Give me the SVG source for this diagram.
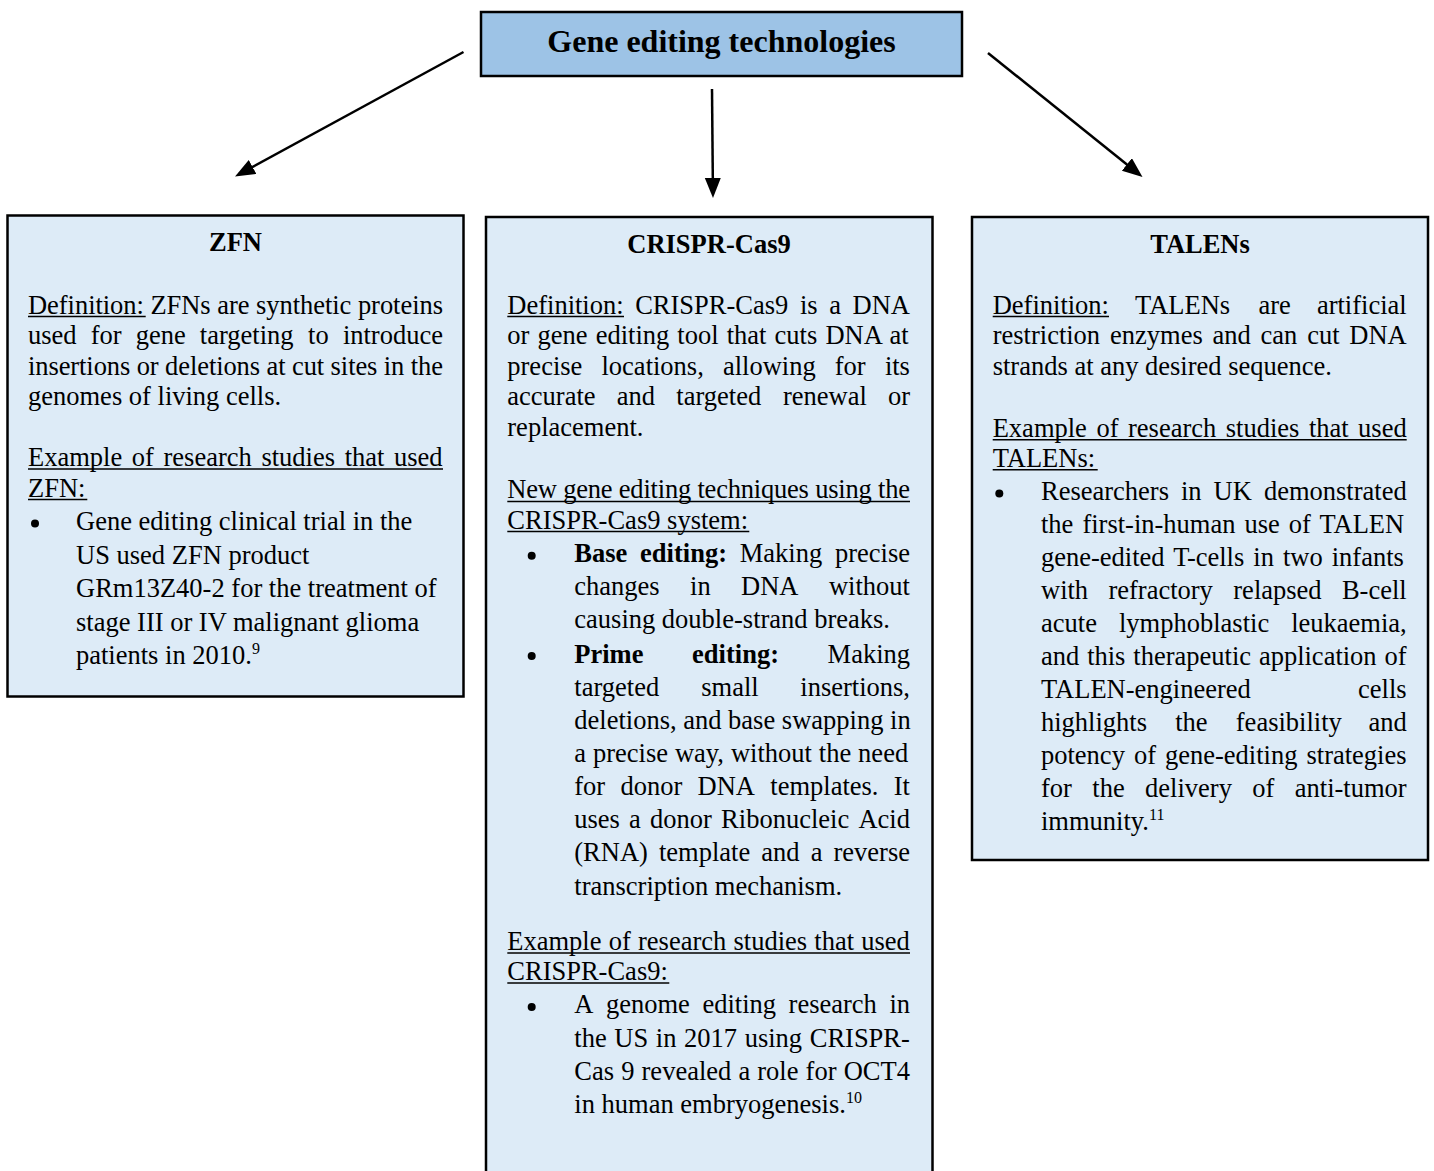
<svg xmlns="http://www.w3.org/2000/svg" width="1434" height="1171" viewBox="0 0 1434 1171">
<style>
text{font-family:"Liberation Serif","Times New Roman",serif;fill:#000}
.b{font-size:26.5px}
.h{font-size:26.5px;font-weight:bold;text-anchor:middle}
.t{font-size:32px;font-weight:bold;text-anchor:middle}
.bd{font-weight:bold}
.box{fill:#DDEBF7;stroke:#000;stroke-width:2.5}
.ul{stroke:#000;stroke-width:1.4}
.cn{stroke:#000;stroke-width:2.5;fill:none;marker-end:url(#ah)}
.sup{font-size:16px}
</style>
<defs>
<marker id="ah" markerUnits="userSpaceOnUse" markerWidth="22" markerHeight="18" refX="10" refY="8" orient="auto">
<path d="M0,0 L20,8 L0,16 z" fill="#000"/>
</marker>
</defs>
<rect width="1434" height="1171" fill="#fff"/>

<g id="connectors">
<line class="cn" x1="463.5" y1="52" x2="243.8" y2="171.7"/>
<line class="cn" x1="712" y1="89" x2="712.9" y2="188"/>
<line class="cn" x1="988" y1="53" x2="1134.7" y2="170.7"/>
</g>

<g id="root">
<rect x="481" y="12" width="481" height="64" fill="#9DC3E6" stroke="#000" stroke-width="2.5"/>
<text class="t" x="721.5" y="52">Gene editing technologies</text>
</g>

<g id="zfn">
<rect class="box" x="7.5" y="215.5" width="456" height="481"/>
<text class="h" x="235.5" y="251">ZFN</text>
<text class="b" x="28" y="313.5" textLength="415" lengthAdjust="spacing">Definition: ZFNs are synthetic proteins</text>
<line class="ul" x1="28" y1="316.5" x2="145.7" y2="316.5"/>
<text class="b" y="344"><tspan x="28">used</tspan><tspan x="90.7">for</tspan><tspan x="135.7">gene</tspan><tspan x="199.8">targeting</tspan><tspan x="308.1">to</tspan><tspan x="342.9">introduce</tspan></text>
<text class="b" x="28" y="374.5" textLength="415" lengthAdjust="spacing">insertions or deletions at cut sites in the</text>
<text class="b" x="28" y="405">genomes of living cells.</text>
<text class="b" x="28" y="466" word-spacing="3">Example of research studies that used</text>
<line class="ul" x1="28" y1="469" x2="443" y2="469"/>
<text class="b" x="28" y="496.5">ZFN:</text>
<line class="ul" x1="28" y1="499.5" x2="87.3" y2="499.5"/>
<circle cx="35" cy="523.5" r="4"/>
<text class="b" x="76" y="530">Gene editing clinical trial in the</text>
<text class="b" x="76" y="563.5">US used ZFN product</text>
<text class="b" x="76" y="597">GRm13Z40-2 for the treatment of</text>
<text class="b" x="76" y="630.5">stage III or IV malignant glioma</text>
<text class="b" x="76" y="664">patients in 2010.<tspan class="sup" dy="-10">9</tspan></text>
</g>

<g id="crispr">
<rect class="box" x="486" y="217" width="446.5" height="980"/>
<text class="h" x="709" y="253.3">CRISPR-Cas9</text>
<text class="b" y="313.5"><tspan x="507.3">Definition:</tspan><tspan x="635.2">CRISPR-Cas9</tspan><tspan x="799.9">is</tspan><tspan x="829.2">a</tspan><tspan x="852.6">DNA</tspan></text>
<line class="ul" x1="507.3" y1="316.5" x2="624" y2="316.5"/>
<text class="b" x="507.3" y="344" word-spacing="1.5">or gene editing tool that cuts DNA at</text>
<text class="b" y="374.5"><tspan x="507.3">precise</tspan><tspan x="601.5">locations,</tspan><tspan x="722.9">allowing</tspan><tspan x="834.8">for</tspan><tspan x="884.9">its</tspan></text>
<text class="b" y="405"><tspan x="507.3">accurate</tspan><tspan x="616.8">and</tspan><tspan x="676.3">targeted</tspan><tspan x="782.9">renewal</tspan><tspan x="888">or</tspan></text>
<text class="b" x="507.3" y="435.5">replacement.</text>
<text class="b" x="507.3" y="498.3" textLength="402.7" lengthAdjust="spacing">New gene editing techniques using the</text>
<line class="ul" x1="507.3" y1="501.5" x2="910" y2="501.5"/>
<text class="b" x="507.3" y="528.5">CRISPR-Cas9 system:</text>
<line class="ul" x1="507.3" y1="531.5" x2="749.3" y2="531.5"/>
<circle cx="531.7" cy="555.7" r="4"/>
<text class="b" y="561.7"><tspan x="574.3" class="bd">Base</tspan><tspan x="640.1" class="bd">editing:</tspan><tspan x="739.8">Making</tspan><tspan x="835">precise</tspan></text>
<text class="b" y="595"><tspan x="574.3">changes</tspan><tspan x="690.1">in</tspan><tspan x="741.1">DNA</tspan><tspan x="828.9">without</tspan></text>
<text class="b" x="574.3" y="628">causing double-strand breaks.</text>
<circle cx="531.7" cy="656" r="4"/>
<text class="b" y="662.5"><tspan x="574.3" class="bd">Prime</tspan><tspan x="692.1" class="bd">editing:</tspan><tspan x="827.6">Making</tspan></text>
<text class="b" y="695.5"><tspan x="574.3">targeted</tspan><tspan x="701.3">small</tspan><tspan x="800.3">insertions,</tspan></text>
<text class="b" x="574.3" y="728.5">deletions, and base swapping in</text>
<text class="b" x="574.3" y="761.7" word-spacing="0.3">a precise way, without the need</text>
<text class="b" y="795"><tspan x="574.3">for</tspan><tspan x="620.5">donor</tspan><tspan x="697.6">DNA</tspan><tspan x="770.3">templates.</tspan><tspan x="893.8">It</tspan></text>
<text class="b" y="828.3"><tspan x="574.3">uses</tspan><tspan x="629.1">a</tspan><tspan x="650.1">donor</tspan><tspan x="721.1">Ribonucleic</tspan><tspan x="858.4">Acid</tspan></text>
<text class="b" y="861.3"><tspan x="574.3">(RNA)</tspan><tspan x="659">template</tspan><tspan x="761.3">and</tspan><tspan x="810.7">a</tspan><tspan x="833.5">reverse</tspan></text>
<text class="b" x="574.3" y="894.5">transcription mechanism.</text>
<text class="b" x="507.3" y="950" word-spacing="0.6">Example of research studies that used</text>
<line class="ul" x1="507.3" y1="953" x2="910" y2="953"/>
<text class="b" x="507.3" y="980">CRISPR-Cas9:</text>
<line class="ul" x1="507.3" y1="983" x2="669.3" y2="983"/>
<circle cx="531.7" cy="1007" r="4"/>
<text class="b" y="1013.3"><tspan x="574.3">A</tspan><tspan x="606">genome</tspan><tspan x="702.4">editing</tspan><tspan x="788.6">research</tspan><tspan x="889.4">in</tspan></text>
<text class="b" x="574.3" y="1046.7" word-spacing="1">the US in 2017 using CRISPR-</text>
<text class="b" x="574.3" y="1080" word-spacing="0.5">Cas 9 revealed a role for OCT4</text>
<text class="b" x="574.3" y="1113">in human embryogenesis.<tspan class="sup" dy="-10">10</tspan></text>
</g>

<g id="talens">
<rect class="box" x="972" y="217" width="456" height="643"/>
<text class="h" x="1200" y="253.3">TALENs</text>
<text class="b" y="313.5"><tspan x="992.7">Definition:</tspan><tspan x="1135.1">TALENs</tspan><tspan x="1258.4">are</tspan><tspan x="1316.9">artificial</tspan></text>
<line class="ul" x1="992.7" y1="316.5" x2="1109" y2="316.5"/>
<text class="b" y="344"><tspan x="992.7">restriction</tspan><tspan x="1110">enzymes</tspan><tspan x="1212.5">and</tspan><tspan x="1260.6">can</tspan><tspan x="1307.2">cut</tspan><tspan x="1349.3">DNA</tspan></text>
<text class="b" x="992.7" y="374.5">strands at any desired sequence.</text>
<text class="b" y="436.7"><tspan x="992.7">Example</tspan><tspan x="1096.4">of</tspan><tspan x="1128">research</tspan><tspan x="1225.8">studies</tspan><tspan x="1308.9">that</tspan><tspan x="1358.1">used</tspan></text>
<line class="ul" x1="992.7" y1="439.7" x2="1406.7" y2="439.7"/>
<text class="b" x="992.7" y="466.7">TALENs:</text>
<line class="ul" x1="992.7" y1="469.7" x2="1097.7" y2="469.7"/>
<circle cx="999.3" cy="493.5" r="4"/>
<text class="b" y="500"><tspan x="1041">Researchers</tspan><tspan x="1181">in</tspan><tspan x="1213.6">UK</tspan><tspan x="1263.9">demonstrated</tspan></text>
<text class="b" x="1041" y="533" word-spacing="2.4">the first-in-human use of TALEN</text>
<text class="b" x="1041" y="566" word-spacing="2.4">gene-edited T-cells in two infants</text>
<text class="b" y="599"><tspan x="1041">with</tspan><tspan x="1108.4">refractory</tspan><tspan x="1233.3">relapsed</tspan><tspan x="1341.9">B-cell</tspan></text>
<text class="b" y="632"><tspan x="1041">acute</tspan><tspan x="1119">lymphoblastic</tspan><tspan x="1291.2">leukaemia,</tspan></text>
<text class="b" x="1041" y="665" word-spacing="1.25">and this therapeutic application of</text>
<text class="b" y="698"><tspan x="1041">TALEN-engineered</tspan><tspan x="1358.1">cells</tspan></text>
<text class="b" y="731"><tspan x="1041">highlights</tspan><tspan x="1175.2">the</tspan><tspan x="1235.8">feasibility</tspan><tspan x="1368.4">and</tspan></text>
<text class="b" x="1041" y="764" word-spacing="2.4">potency of gene-editing strategies</text>
<text class="b" y="797"><tspan x="1041">for</tspan><tspan x="1092.3">the</tspan><tspan x="1145.1">delivery</tspan><tspan x="1252.3">of</tspan><tspan x="1294.8">anti-tumor</tspan></text>
<text class="b" x="1041" y="830">immunity.<tspan class="sup" dy="-10">11</tspan></text>
</g>
</svg>
